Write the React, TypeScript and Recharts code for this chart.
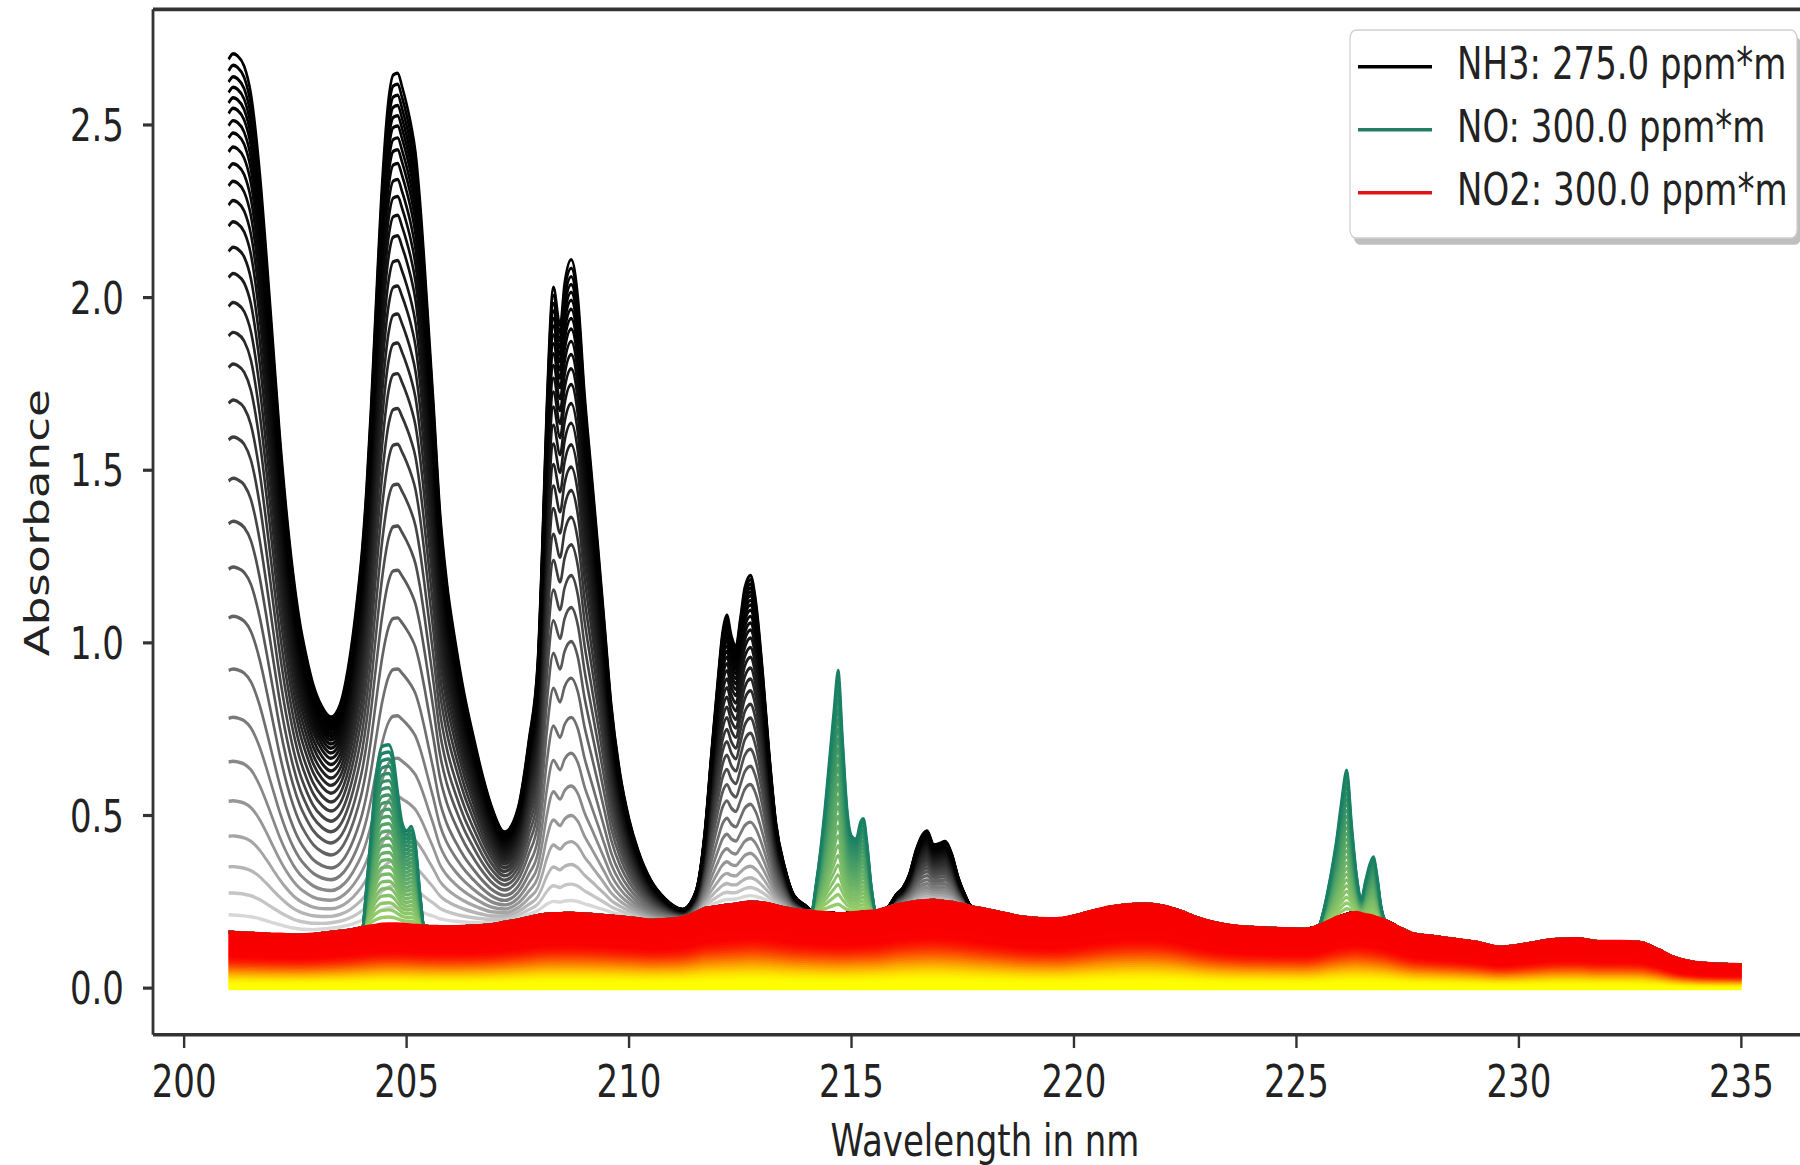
import React from 'react';
import { LineChart, Line, XAxis, YAxis, Legend, ReferenceLine } from 'recharts';

// wavelength grid (nm)
const WL = [
  201.0, 201.1, 201.2, 201.35, 201.5, 201.7, 201.85, 202.0, 202.15, 202.3,
  202.45, 202.6, 202.75, 202.9, 203.1, 203.3, 203.5, 203.7, 203.9, 204.0,
  204.1, 204.2, 204.3, 204.45, 204.6, 204.7, 204.8, 204.9, 205.0, 205.1,
  205.2, 205.3, 205.4, 205.5, 205.6, 205.75, 205.9, 206.1, 206.3, 206.5,
  206.7, 206.9, 207.2, 207.5, 207.75, 207.95, 208.05, 208.15, 208.3, 208.45,
  208.55, 208.7, 208.85, 209.0, 209.15, 209.3, 209.45, 209.6, 209.8, 210.0,
  210.2, 210.5, 210.8, 211.2, 211.5, 211.7, 211.85, 212.0, 212.1, 212.2,
  212.3, 212.4, 212.5, 212.6, 212.73, 212.85, 213.0, 213.15, 213.3, 213.5,
  213.7, 214.0, 214.1, 214.2, 214.3, 214.4, 214.5, 214.6, 214.7, 214.8,
  214.9, 215.0, 215.1, 215.2, 215.27, 215.35, 215.45, 215.55, 215.8, 216.0,
  216.15, 216.3, 216.45, 216.6, 216.7, 216.85, 217.0, 217.1, 217.25, 217.4,
  217.55, 217.7, 218.0, 218.4, 218.8, 219.2, 219.6, 220.0, 220.4, 220.8,
  221.2, 221.6, 222.0, 222.4, 222.8, 223.2, 223.7, 224.2, 224.7, 225.2,
  225.5, 225.6, 225.7, 225.8, 225.9, 226.0, 226.13, 226.25, 226.35, 226.46,
  226.55, 226.65, 226.73, 226.82, 226.9, 227.0, 227.3, 227.6, 228.0, 228.5,
  229.0, 229.6, 230.2, 230.8, 231.3, 231.8, 232.3, 232.7, 233.1, 233.5,
  233.9, 234.3, 234.7, 235.0,
];

// NO2 absorbance at 300 ppm*m
const NO2_TOP = [
  0.162, 0.161, 0.160, 0.159, 0.158, 0.157, 0.156, 0.155, 0.155, 0.154,
  0.153, 0.153, 0.154, 0.155, 0.158, 0.161, 0.164, 0.167, 0.172, 0.175,
  0.177, 0.179, 0.181, 0.184, 0.185, 0.185, 0.185, 0.184, 0.183, 0.182,
  0.181, 0.180, 0.179, 0.178, 0.178, 0.177, 0.177, 0.177, 0.178, 0.179,
  0.181, 0.183, 0.190, 0.197, 0.204, 0.210, 0.212, 0.214, 0.215, 0.215,
  0.216, 0.216, 0.215, 0.214, 0.213, 0.211, 0.210, 0.208, 0.206, 0.203,
  0.200, 0.196, 0.198, 0.204, 0.218, 0.230, 0.233, 0.236, 0.238, 0.240,
  0.241, 0.243, 0.245, 0.247, 0.249, 0.248, 0.246, 0.243, 0.238, 0.232,
  0.227, 0.223, 0.222, 0.220, 0.219, 0.218, 0.217, 0.216, 0.215, 0.215,
  0.216, 0.217, 0.218, 0.219, 0.220, 0.221, 0.222, 0.223, 0.232, 0.240,
  0.244, 0.247, 0.250, 0.252, 0.253, 0.254, 0.252, 0.250, 0.248, 0.244,
  0.240, 0.235, 0.228, 0.217, 0.206, 0.201, 0.200, 0.208, 0.222, 0.234,
  0.241, 0.243, 0.237, 0.222, 0.202, 0.188, 0.178, 0.174, 0.171, 0.170,
  0.180, 0.186, 0.192, 0.198, 0.204, 0.208, 0.213, 0.217, 0.218, 0.215,
  0.212, 0.210, 0.207, 0.203, 0.200, 0.195, 0.175, 0.158, 0.150, 0.142,
  0.133, 0.118, 0.128, 0.140, 0.142, 0.134, 0.134, 0.132, 0.113, 0.088,
  0.075, 0.070, 0.068, 0.067,
];

// NH3 absorbance at 275 ppm*m
const NH3_ABS = [
  2.528, 2.545, 2.540, 2.511, 2.432, 2.203, 1.964, 1.705, 1.445, 1.226,
  1.047, 0.907, 0.806, 0.725, 0.657, 0.624, 0.656, 0.773, 0.968, 1.095,
  1.273, 1.501, 1.769, 2.146, 2.395, 2.460, 2.465, 2.426, 2.377, 2.318,
  2.239, 2.100, 1.921, 1.722, 1.522, 1.203, 1.003, 0.823, 0.672, 0.551,
  0.439, 0.347, 0.262, 0.323, 0.516, 0.740, 1.068, 1.466, 1.815, 1.705,
  1.824, 1.894, 1.785, 1.506, 1.287, 1.069, 0.840, 0.612, 0.414, 0.287,
  0.200, 0.114, 0.062, 0.024, 0.062, 0.220, 0.447, 0.664, 0.792, 0.840,
  0.779, 0.747, 0.825, 0.913, 0.946, 0.872, 0.674, 0.437, 0.242, 0.118,
  0.043, 0.012, 0, 0, 0, 0, 0, 0, 0, 0,
  0, 0, 0, 0, 0, 0, 0, 0, 0, 0.030,
  0.046, 0.083, 0.150, 0.193, 0.202, 0.161, 0.168, 0.175, 0.142, 0.076,
  0.030, 0, 0, 0, 0, 0, 0, 0, 0, 0,
  0, 0, 0, 0, 0, 0, 0, 0, 0, 0,
  0, 0, 0, 0, 0, 0, 0, 0, 0, 0,
  0, 0, 0, 0, 0, 0, 0, 0, 0, 0,
  0, 0, 0, 0, 0, 0, 0, 0, 0, 0,
  0, 0, 0, 0,
];

// NO absorbance at 300 ppm*m
const NO_ABS = [
  0, 0, 0, 0, 0, 0, 0, 0, 0, 0,
  0, 0, 0, 0, 0, 0, 0, 0, 0, 0,
  0.123, 0.271, 0.419, 0.516, 0.520, 0.485, 0.385, 0.296, 0.272, 0.286,
  0.239, 0.100, 0, 0, 0, 0, 0, 0, 0, 0,
  0, 0, 0, 0, 0, 0, 0, 0, 0, 0,
  0, 0, 0, 0, 0, 0, 0, 0, 0, 0,
  0, 0, 0, 0, 0, 0, 0, 0, 0, 0,
  0, 0, 0, 0, 0, 0, 0, 0, 0, 0,
  0, 0, 0, 0.080, 0.180, 0.302, 0.443, 0.584, 0.705, 0.505,
  0.305, 0.224, 0.213, 0.262, 0.271, 0.200, 0.069, 0, 0, 0,
  0, 0, 0, 0, 0, 0, 0, 0, 0, 0,
  0, 0, 0, 0, 0, 0, 0, 0, 0, 0,
  0, 0, 0, 0, 0, 0, 0, 0, 0, 0,
  0, 0.034, 0.088, 0.152, 0.226, 0.322, 0.418, 0.243, 0.112, 0.045,
  0.098, 0.150, 0.173, 0.117, 0.040, 0, 0, 0, 0, 0,
  0, 0, 0, 0, 0, 0, 0, 0, 0, 0,
  0, 0, 0, 0,
];

// relative concentration levels of the plotted curves
const NH3_LEVELS = [
  0.02, 0.045, 0.075, 0.11, 0.15, 0.195, 0.245, 0.3, 0.36, 0.416,
  0.468, 0.517, 0.564, 0.606, 0.647, 0.683, 0.717, 0.75, 0.78, 0.809,
  0.833, 0.855, 0.875, 0.894, 0.91, 0.924, 0.938, 0.95, 0.962, 0.974,
  0.987, 1.0,
];
const NO_LEVELS = [
  0.04, 0.08, 0.12, 0.16, 0.2, 0.24, 0.28, 0.32, 0.36, 0.4,
  0.44, 0.48, 0.52, 0.56, 0.6, 0.64, 0.68, 0.72, 0.76, 0.8,
  0.84, 0.88, 0.92, 0.96, 1.0,
];
const NO2_LEVELS = [
  0, 0.025, 0.05, 0.075, 0.1, 0.125, 0.15, 0.175, 0.2, 0.225,
  0.25, 0.275, 0.3, 0.325, 0.35, 0.375, 0.4, 0.425, 0.45, 0.475,
  0.5, 0.525, 0.55, 0.575, 0.6, 0.625, 0.65, 0.675, 0.7, 0.725,
  0.75, 0.775, 0.8, 0.825, 0.85, 0.875, 0.9, 0.925, 0.95, 0.975, 1.0,
];

const X_TICKS = [200, 205, 210, 215, 220, 225, 230, 235];
const Y_TICKS = [0, 0.5, 1.0, 1.5, 2.0, 2.5];
const LEGEND_LABELS = ['NH3: 275.0 ppm*m', 'NO: 300.0 ppm*m', 'NO2: 300.0 ppm*m'];
const X_TITLE = 'Wavelength in nm';
const Y_TITLE = 'Absorbance';

// ---- styling ----
const SY = 1.33;
const CW = 1840;
const CH = 876;
const FONT = 'DejaVu Sans';
const LEGEND_COLORS = ['#000000', '#237d64', '#e3121a'];

function nh3Color(i: number, n: number) {
  const t = i / (n - 1);
  const g = Math.round(215 * Math.pow(1 - t, 2.6));
  return `rgb(${g},${g},${g})`;
}
function noColor(i: number, n: number) {
  const t = i / (n - 1);
  const lo = [150, 205, 105];
  const hi = [25, 128, 100];
  const c = lo.map((v, k) => Math.round(v + (hi[k] - v) * t));
  return `rgb(${c[0]},${c[1]},${c[2]})`;
}
function smoothstep(a: number, b: number, t: number) {
  const x = Math.min(1, Math.max(0, (t - a) / (b - a)));
  return x * x * (3 - 2 * x);
}
function no2Color(i: number, n: number) {
  const t = i / (n - 1);
  const g = Math.round(255 * (1 - smoothstep(0.06, 0.62, t)));
  const r = Math.round(255 - 8 * t);
  return `rgb(${r},${g},0)`;
}

const XTitle = () => (
  <text x={985} y={869} textAnchor="middle" fontSize={34} fontFamily={FONT} fill="#222">
    {X_TITLE}
  </text>
);
const YTitle = () => (
  <text
    x={37}
    y={393}
    transform="rotate(-90 37 393)"
    textAnchor="middle"
    dominantBaseline="central"
    fontSize={34}
    fontFamily={FONT}
    fill="#222"
  >
    {Y_TITLE}
  </text>
);

const LegendBox = () => {
  const rows = [32.2, 79.6, 127];
  return (
    <svg width={470} height={185} style={{ overflow: 'visible', display: 'block' }}>
      <rect x={6} y={9.6} width={447} height={156.4} rx={6} fill="#8a8a8a" opacity={0.55} />
      <rect x={2} y={4.6} width={447} height={156.4} rx={6} fill="#ffffff" stroke="#cfcfcf" strokeWidth={1.2} />
      {LEGEND_LABELS.map((lab, i) => (
        <g key={lab}>
          <line x1={10} x2={84} y1={rows[i]} y2={rows[i]} stroke={LEGEND_COLORS[i]} strokeWidth={2.6} />
          <text x={109} y={rows[i] + 9.5} fontSize={34} fontFamily={FONT} fill="#222">
            {lab}
          </text>
        </g>
      ))}
    </svg>
  );
};

export default function App() {
  const data = WL.map((wl, j) => {
    const row: Record<string, number> = { wl };
    NH3_LEVELS.forEach((f, i) => {
      row['nh3_' + i] = NO2_TOP[j] + f * NH3_ABS[j];
    });
    NO_LEVELS.forEach((f, i) => {
      row['no_' + i] = NO2_TOP[j] + f * NO_ABS[j];
    });
    NO2_LEVELS.forEach((f, i) => {
      row['no2_' + i] = f * NO2_TOP[j];
    });
    return row;
  });

  const axisStroke = '#333';
  const tickStyle = { fontSize: 34, fill: '#222', fontFamily: FONT };

  return (
    <div
      style={{
        position: 'fixed',
        left: 0,
        top: 0,
        width: 1800,
        height: 1165,
        overflow: 'hidden',
        background: '#fff',
      }}
    >
      <div style={{ width: CW, height: CH, transform: `scaleY(${SY})`, transformOrigin: '0 0' }}>
        <LineChart
          width={CW}
          height={CH}
          data={data}
          margin={{ top: 7, right: 23, bottom: 0, left: 0 }}
          style={{ fontFamily: FONT }}
        >
          <XAxis
            dataKey="wl"
            type="number"
            domain={[199.3, 236.7]}
            ticks={X_TICKS}
            allowDataOverflow
            height={98}
            tickSize={10}
            tickMargin={13}
            stroke={axisStroke}
            axisLine={{ stroke: axisStroke, strokeWidth: 2.8 }}
            tickLine={{ stroke: axisStroke, strokeWidth: 2.4 }}
            tick={tickStyle}
            label={XTitle}
          />
          <YAxis
            type="number"
            domain={[-0.135, 2.835]}
            ticks={Y_TICKS}
            allowDataOverflow
            width={153}
            tickSize={10}
            tickMargin={19}
            stroke={axisStroke}
            axisLine={{ stroke: axisStroke, strokeWidth: 2.8 }}
            tickLine={{ stroke: axisStroke, strokeWidth: 2.4 }}
            tick={tickStyle}
            tickFormatter={(v: number) => v.toFixed(1)}
            label={YTitle}
          />
          <ReferenceLine y={2.835} stroke={axisStroke} strokeWidth={2.8} ifOverflow="visible" />
          {NH3_LEVELS.map((_, i) => (
            <Line
              key={'nh3' + i}
              dataKey={'nh3_' + i}
              type="monotone"
              stroke={nh3Color(i, NH3_LEVELS.length)}
              strokeWidth={2.6}
              dot={false}
              activeDot={false}
              isAnimationActive={false}
            />
          ))}
          {NO_LEVELS.map((_, i) => (
            <Line
              key={'no' + i}
              dataKey={'no_' + i}
              type="monotone"
              stroke={noColor(i, NO_LEVELS.length)}
              strokeWidth={2.6}
              dot={false}
              activeDot={false}
              isAnimationActive={false}
            />
          ))}
          {NO2_LEVELS.map((_, i) => (
            <Line
              key={'no2' + i}
              dataKey={'no2_' + i}
              type="monotone"
              stroke={no2Color(i, NO2_LEVELS.length)}
              strokeWidth={3}
              dot={false}
              activeDot={false}
              isAnimationActive={false}
            />
          ))}
          <Legend
            layout="vertical"
            align="center"
            verticalAlign="middle"
            content={LegendBox}
            wrapperStyle={{ left: 1348, top: 18, width: 470, height: 185 }}
          />
        </LineChart>
      </div>
    </div>
  );
}
